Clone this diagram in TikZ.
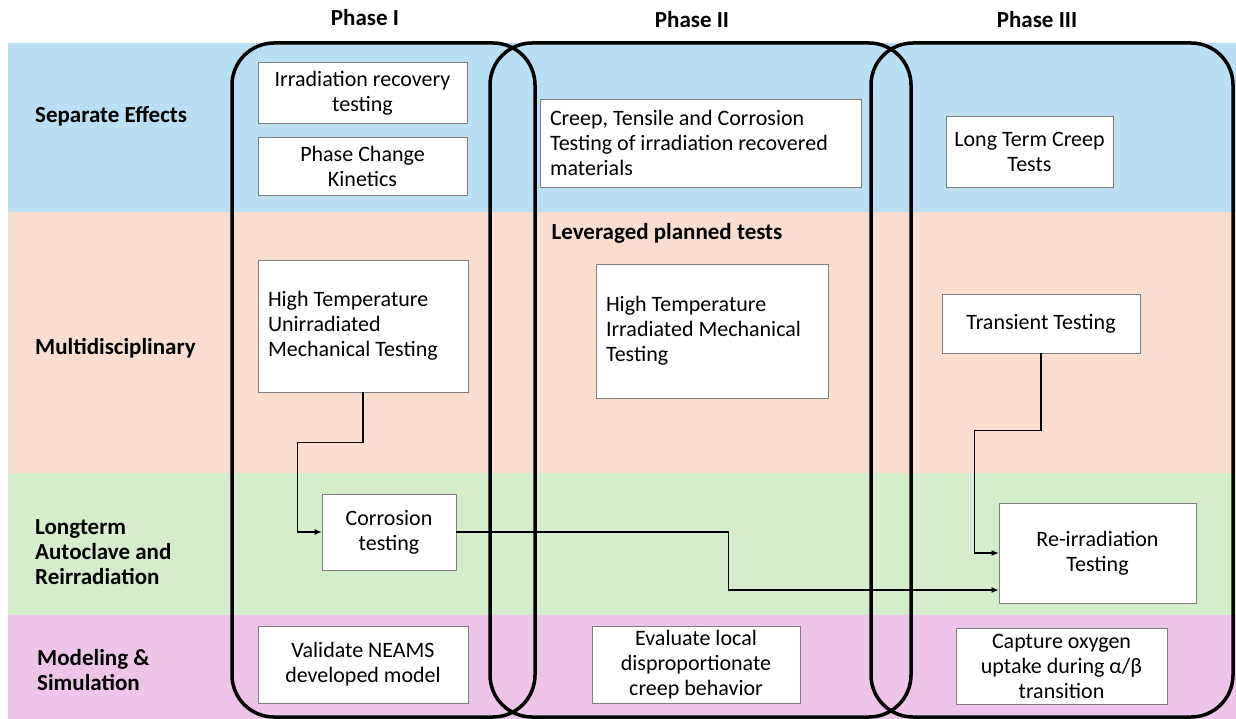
\documentclass[tikz,border=0pt]{standalone}
\usepackage{fontspec}
\setmainfont{Carlito}
\usepackage{tikz}
\usetikzlibrary{arrows.meta,positioning,calc}
\definecolor{sepband}{HTML}{BADFF2}
\definecolor{multband}{HTML}{F9DDCF}
\definecolor{longband}{HTML}{D4EECB}
\definecolor{modband}{HTML}{EEC5EA}
\definecolor{boxline}{HTML}{7F7F7F}

\begin{document}
\begin{tikzpicture}[x=1pt, y=-1pt,
  every node/.style={font=\fontsize{22}{25}\selectfont},
  header/.style={font=\fontsize{23}{25}\selectfont\bfseries},
  rowlabel/.style={anchor=west, align=flush left, inner sep=0pt, font=\fontsize{23}{25}\selectfont\bfseries},
  testbox/.style={draw=boxline, fill=white, line width=0.8pt, align=center, inner sep=4pt},
  leftbox/.style={testbox, align=flush left, inner xsep=10pt},
  phase/.style={line width=3.5pt, rounded corners=42pt},
  conn/.style={line width=1.1pt, -{Latex[length=7pt,width=6pt]}}]
  \useasboundingbox (0,0) rectangle (1236,719);

  % Row bands
  \fill[sepband] (8,43) rectangle (1236,212);
  \fill[multband] (8,212) rectangle (1236,473);
  \fill[longband] (8,473) rectangle (1236,615);
  \fill[modband] (8,615) rectangle (1236,719);

  % Phase headers
  \node[header] (ph1) at (365,18) {Phase I};
  \node[header] (ph2) at (692,20) {Phase II};
  \node[header] (ph3) at (1037,20) {Phase III};

  % Row labels
  \node[rowlabel] (rsep) at (35,116) {Separate Effects};
  \node[rowlabel] (rmult) at (35,348) {Multidisciplinary};
  \node[rowlabel] (rlong) at (35,552) {Longterm\\Autoclave and\\Reirradiation};
  \node[rowlabel] (rmod) at (37,670) {Modeling \&\\Simulation};

  % Phase outlines
  \draw[phase] (232,43) rectangle (535,717);
  \draw[phase] (490,43) rectangle (911,717);
  \draw[phase] (871,43) rectangle (1233,717);

  % Phase I tests
  \node[testbox, minimum width=209pt, minimum height=61pt] (irrrec) at (362.5,93) {Irradiation recovery\\testing};
  \node[testbox, minimum width=209pt, minimum height=58pt] (phchg) at (362.5,166) {Phase Change\\Kinetics};
  \node[leftbox, text width=190pt, minimum height=132pt] (unirr) at (363,326) {High Temperature\\Unirradiated\\Mechanical Testing};
  \node[testbox, minimum width=134pt, minimum height=76pt] (corr) at (389,532) {Corrosion\\testing};
  \node[testbox, minimum width=210pt, minimum height=77pt] (neams) at (363,664.5) {Validate NEAMS\\developed model};

  % Phase II tests
  \node[leftbox, text width=301pt, minimum height=88pt] (creeptens) at (700.5,143) {Creep, Tensile and Corrosion\\Testing of irradiation recovered\\materials};
  \node[header] (lever) at (667,233) {Leveraged planned tests};
  \node[leftbox, text width=212pt, minimum height=134pt] (irrmech) at (712,331) {High Temperature\\Irradiated Mechanical\\Testing};
  \node[testbox, minimum width=208pt, minimum height=76pt] (evalcreep) at (696,665) {Evaluate local\\disproportionate\\creep behavior};

  % Phase III tests
  \node[testbox, minimum width=167pt, minimum height=71pt] (ltcreep) at (1029.5,151.5) {Long Term Creep\\Tests};
  \node[testbox, minimum width=198pt, minimum height=59pt] (trans) at (1041,323.5) {Transient Testing};
  \node[testbox, minimum width=197pt, minimum height=100pt] (reirr) at (1097.5,553) {Re-irradiation\\Testing};
  \node[testbox, minimum width=211pt, minimum height=76pt] (oxy) at (1061.5,666) {Capture oxygen\\uptake during α/β\\transition};

  % Connectors
  \draw[conn] (unirr.south) -- ++(0,50) -| ([xshift=-24pt]corr.west) -- (corr.west);
  \draw[conn] (corr.east) -- ++(272,0) |- ([yshift=-37pt]reirr.west);
  \draw[conn] (trans.south) -- ++(0,77) -| ([xshift=-24pt]reirr.west) -- (reirr.west);
\end{tikzpicture}
\end{document}
